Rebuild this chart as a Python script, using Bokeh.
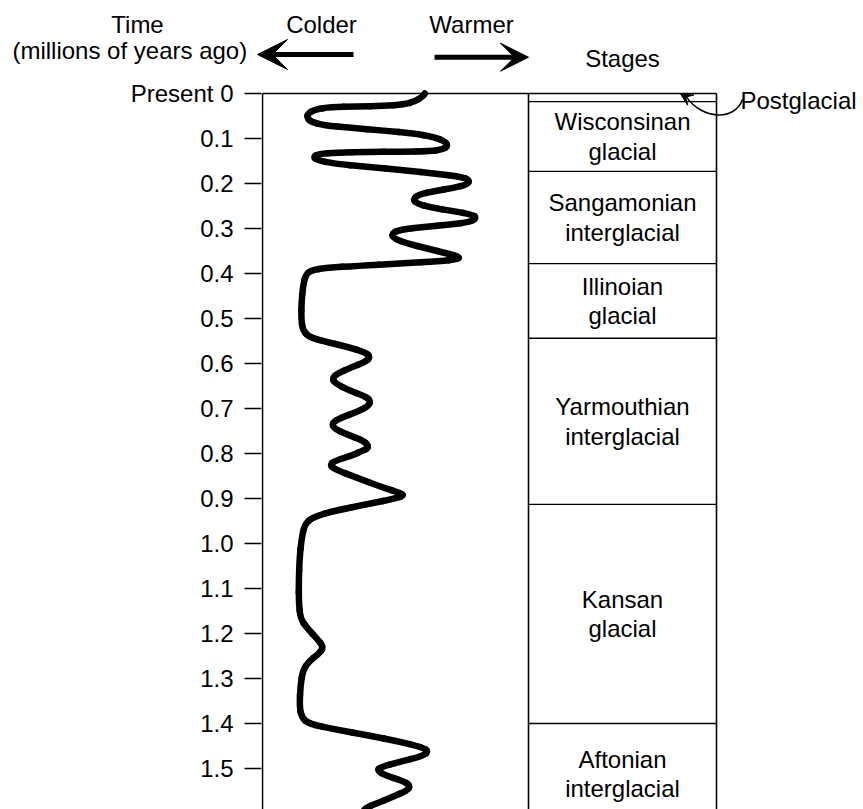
from bokeh.plotting import figure
from bokeh.layouts import column
from bokeh.models import Range1d, FixedTicker, Arrow, VeeHead
from bokeh.core.properties import value
from bokeh.embed import file_html
from bokeh.resources import INLINE

# ---------------- data ----------------
# climate curve: time (millions of years ago) and relative warmth (small = colder)
curve_t = [0.0000, 0.0074, 0.0170, 0.0244, 0.0274, 0.0289, 0.0304, 0.0348, 0.0444, 0.0541,
           0.0630, 0.0704, 0.0763, 0.0822, 0.0889, 0.0963, 0.1074, 0.1163, 0.1237, 0.1281,
           0.1296, 0.1296, 0.1311, 0.1341, 0.1407, 0.1481, 0.1556, 0.1630, 0.1704, 0.1785,
           0.1844, 0.1926, 0.2022, 0.2096, 0.2170, 0.2244, 0.2348, 0.2444, 0.2533, 0.2615,
           0.2689, 0.2763, 0.2852, 0.2911, 0.2963, 0.3022, 0.3111, 0.3222, 0.3333, 0.3444,
           0.3556, 0.3630, 0.3681, 0.3726, 0.3778, 0.3830, 0.3874, 0.3926, 0.4037, 0.4259,
           0.4630, 0.5000, 0.5259, 0.5407, 0.5504, 0.5630, 0.5756, 0.5852, 0.5963, 0.6096,
           0.6222, 0.6333, 0.6444, 0.6593, 0.6719, 0.6815, 0.6941, 0.7074, 0.7207, 0.7319,
           0.7444, 0.7578, 0.7704, 0.7800, 0.7889, 0.7933, 0.8044, 0.8156, 0.8252, 0.8356,
           0.8526, 0.8748, 0.8881, 0.8933, 0.8993, 0.9119, 0.9267, 0.9400, 0.9563, 0.9896,
           1.0341, 1.0859, 1.1304, 1.1674, 1.1881, 1.2119, 1.2304, 1.2452, 1.2622, 1.2822,
           1.3156, 1.3600, 1.3859, 1.4007, 1.4133, 1.4267, 1.4400, 1.4526, 1.4622, 1.4726,
           1.4859, 1.4970, 1.5044, 1.5156, 1.5267, 1.5378, 1.5489, 1.5637, 1.5785, 1.5859,
           1.5933]
curve_w = [162.3, 159.7, 153.0, 141.3, 121.3, 94.7, 68.0, 53.0, 45.3, 44.7,
           48.7, 61.3, 88.0, 121.3, 151.3, 171.3, 183.0, 185.3, 180.7, 168.0,
           138.0, 104.7, 74.7, 56.3, 50.7, 54.7, 71.3, 104.7, 141.3, 174.7,
           198.0, 207.3, 204.7, 191.3, 171.3, 156.3, 150.7, 154.0, 168.0, 191.3,
           209.7, 214.0, 208.0, 188.0, 161.3, 138.0, 129.0, 131.3, 144.7, 164.7,
           184.7, 197.3, 194.7, 178.0, 138.0, 94.7, 64.7, 48.7, 43.0, 40.7,
           39.0, 38.7, 40.3, 46.3, 61.3, 84.7, 103.0, 108.0, 103.0, 88.0,
           74.7, 69.7, 73.0, 86.3, 101.3, 108.0, 106.3, 94.7, 78.0, 69.7,
           71.3, 84.7, 99.7, 105.3, 105.3, 100.3, 89.7, 73.0, 67.0, 73.0,
           93.0, 119.7, 138.0, 141.3, 134.7, 106.3, 73.0, 51.3, 42.3, 39.0,
           37.0, 36.3, 36.3, 38.0, 44.7, 54.7, 61.3, 56.3, 46.3, 40.3,
           38.0, 37.0, 39.0, 46.3, 73.0, 106.3, 136.3, 159.7, 166.3, 159.7,
           136.3, 118.0, 114.7, 123.0, 139.7, 148.0, 144.7, 129.7, 113.0, 104.7,
           101.3]

stage_names = ["Postglacial", "Wisconsinan\nglacial", "Sangamonian\ninterglacial",
               "Illinoian\nglacial", "Yarmouthian\ninterglacial", "Kansan\nglacial",
               "Aftonian\ninterglacial"]
stage_start = [0.0, 0.018, 0.173, 0.378, 0.544, 0.913, 1.40]
stage_end = [0.018, 0.173, 0.378, 0.544, 0.913, 1.40, 1.625]

tick_values = [0.0, 0.1, 0.2, 0.3, 0.4, 0.5, 0.6, 0.7, 0.8, 0.9, 1.0, 1.1, 1.2, 1.3, 1.4, 1.5]
tick_labels = ["Present 0", "0.1", "0.2", "0.3", "0.4", "0.5", "0.6", "0.7", "0.8",
               "0.9", "1.0", "1.1", "1.2", "1.3", "1.4", "1.5"]

header_texts = ["Time", "(millions of years ago)", "Colder", "Warmer", "Stages"]

# ---------------- layout ----------------
FONT = "Liberation Sans"
FS = "24px"
PANEL_L, PANEL_R, BOX_R = 0, 266, 454
Y_TOP = -0.2067      # top of page
Y_SPLIT = -0.0467    # boundary between header strip and main plot
Y_BOTTOM = 1.5911
mid_x = (PANEL_R + BOX_R) / 2

# ---- header strip ----
h = figure(width=863, height=72, output_backend="svg", toolbar_location=None,
           x_range=Range1d(-262, 601), y_range=Range1d(Y_SPLIT, Y_TOP),
           x_axis_location=None, y_axis_location=None,
           min_border_left=0, min_border_right=0, min_border_top=0, min_border_bottom=0)
h.frame_align = False
h.outline_line_color = None
h.grid.visible = False
h.text(x=[-125, -132.7, 59, 209, mid_x],
       y=[-0.1533, -0.0956, -0.1533, -0.1533, -0.0778],
       text=header_texts, text_font=value(FONT), text_font_size=FS,
       text_align="center", text_baseline="middle", text_color="black")
h.add_layout(Arrow(end=VeeHead(size=30, fill_color="black", line_color="black"),
                   x_start=91, y_start=-0.0867, x_end=-5, y_end=-0.0867,
                   line_width=5, line_color="black"))
h.add_layout(Arrow(end=VeeHead(size=28, fill_color="black", line_color="black"),
                   x_start=172, y_start=-0.0807, x_end=266, y_end=-0.0807,
                   line_width=5, line_color="black"))

# ---- main chart ----
p = figure(width=863, height=737, output_backend="svg", toolbar_location=None,
           x_range=Range1d(-1, 601), y_range=Range1d(Y_BOTTOM, Y_SPLIT),
           x_axis_location=None, min_border_left=261, min_border_right=0,
           min_border_top=0, min_border_bottom=0)
p.frame_align = False
p.outline_line_color = None
p.grid.visible = False

ax = p.yaxis[0]
ax.ticker = FixedTicker(ticks=tick_values)
ax.major_label_overrides = {v: l for v, l in zip(tick_values, tick_labels)}
ax.axis_line_color = None
ax.major_tick_in = 0
ax.major_tick_out = 17
ax.major_tick_line_width = 1.6
ax.major_tick_line_color = "black"
ax.minor_tick_line_color = None
ax.major_label_standoff = 11
ax.major_label_text_font = FONT
ax.major_label_text_font_size = FS
ax.major_label_text_color = "black"

# frame lines
p.segment(x0=[PANEL_L, PANEL_L, PANEL_R, BOX_R], y0=[0, 0, 0, 0],
          x1=[BOX_R, PANEL_L, PANEL_R, BOX_R], y1=[0, Y_BOTTOM, Y_BOTTOM, Y_BOTTOM],
          line_color="black", line_width=1.6)
# stage boundaries
p.segment(x0=[PANEL_R] * (len(stage_start) - 1), y0=stage_start[1:],
          x1=[BOX_R] * (len(stage_start) - 1), y1=stage_start[1:],
          line_color="black", line_width=1.4)

# stage labels (Postglacial is labeled outside the box)
mids = [(a + b) / 2 for a, b in zip(stage_start, stage_end)]
p.text(x=[mid_x] * (len(stage_names) - 1), y=mids[1:], text=stage_names[1:],
       text_font=value(FONT), text_font_size=FS, text_align="center",
       text_baseline="middle", text_line_height=1.1, text_color="black")

# climate curve, drawn as a smooth chain of quadratic curves through the read points
n = len(curve_w)
mx = [curve_w[0]] + [(curve_w[i] + curve_w[i + 1]) / 2 for i in range(n - 1)] + [curve_w[-1]]
my = [curve_t[0]] + [(curve_t[i] + curve_t[i + 1]) / 2 for i in range(n - 1)] + [curve_t[-1]]
p.quadratic(x0=mx[:-1], y0=my[:-1], x1=mx[1:], y1=my[1:], cx=curve_w, cy=curve_t,
            line_color="black", line_width=6.5, line_cap="round")

# Postglacial label with curved pointer
p.text(x=[478], y=[0.0156], text=[stage_names[0]], text_font=value(FONT),
       text_font_size=FS, text_align="left", text_baseline="alphabetic",
       text_color="black")
p.bezier(x0=[480], y0=[0.0133], x1=[424], y1=[0.008], cx0=[472], cy0=[0.062],
         cx1=[440], cy1=[0.058], line_color="black", line_width=1.6)
p.add_layout(Arrow(end=VeeHead(size=12, fill_color="black", line_color="black"),
                   x_start=427, y_start=0.013, x_end=418, y_end=0.001,
                   line_alpha=0))

layout = column(h, p, spacing=0)
open("out.html", "w").write(file_html(layout, INLINE))
